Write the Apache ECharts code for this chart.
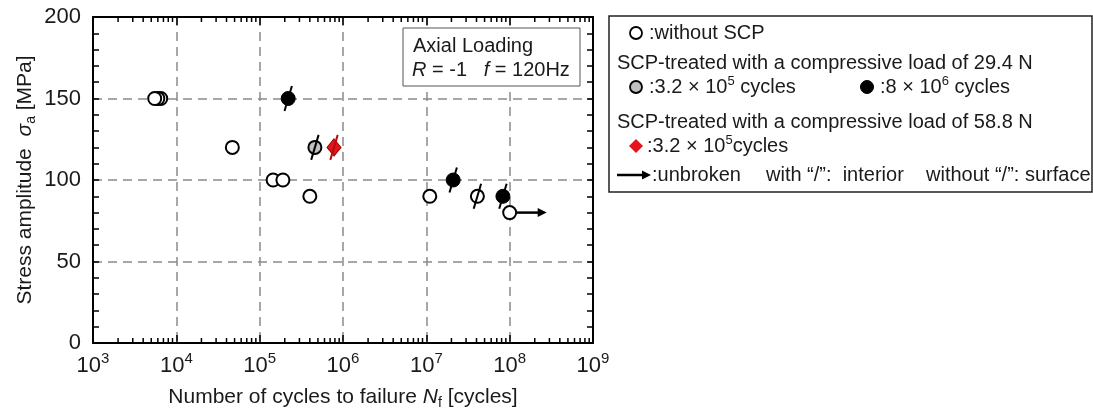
<!DOCTYPE html>
<html>
<head>
<meta charset="utf-8">
<script src="https://cdn.jsdelivr.net/npm/echarts@6/dist/echarts.min.js"></script>
<style>
  html, body { margin: 0; padding: 0; background: #fff; }
  #chart { width: 1093px; height: 410px; }
</style>
</head>
<body>
<div id="chart"></div>
<script>
'use strict';

// S-N data: [cycles to failure, stress amplitude MPa]
const untreatedSurface = [[6.5e3, 150], [6.0e3, 150], [5.5e3, 150], [4.7e4, 120], [1.45e5, 100], [1.9e5, 100], [4.0e5, 90], [1.1e7, 90]];
const untreatedInterior = [[4.1e7, 90]];
const untreatedUnbroken = [[1.0e8, 80]];
const scp294ShortInterior = [[4.6e5, 120]];            // 29.4 N, 3.2e5 cycles (grey)
const scp294LongInterior = [[2.2e5, 150], [2.1e7, 100], [8.3e7, 90]]; // 29.4 N, 8e6 cycles (black)
const scp588ShortInterior = [[7.8e5, 120]];            // 58.8 N, 3.2e5 cycles (red)

const xDecades = [1e3, 1e4, 1e5, 1e6, 1e7, 1e8];
const minorMultipliers = [2, 3, 4, 5, 6, 7, 8, 9];

const FONT = "'Liberation Sans', Arial, sans-serif";
const INK = '#1a1a1a';
const GREY = '#c0c0c0';
const RED = '#e3141c';

const minorTickData = [];
xDecades.forEach((d) => minorMultipliers.forEach((m) => minorTickData.push([d * m, 0])));

const chart = echarts.init(document.getElementById('chart'), null, { renderer: 'canvas' });

function slashSeries(name, data, color) {
  return {
    name, type: 'custom', data, silent: true, z: 5,
    renderItem: (params, api) => {
      const c = api.coord([api.value(0), api.value(1)]);
      return {
        type: 'line',
        shape: { x1: c[0] - 3.7, y1: c[1] + 12.5, x2: c[0] + 3.7, y2: c[1] - 12.5 },
        style: { stroke: color, lineWidth: 2 }
      };
    }
  };
}

function axisCommon() {
  return {
    axisLine: { show: true, onZero: false, lineStyle: { color: '#000', width: 2 } },
    axisTick: { show: true, inside: true, length: 8, lineStyle: { color: '#000', width: 1.5 } }
  };
}

const supRich = {
  n: { fontSize: 20, fontFamily: FONT, fill: INK, lineHeight: 24 },
  s: { fontSize: 13, fontFamily: FONT, fill: INK, verticalAlign: 'top', lineHeight: 13 }
};

const nameRich = {
  n: { fontSize: 21, fontFamily: FONT, color: INK, lineHeight: 26 },
  i: { fontSize: 21, fontFamily: FONT, color: INK, fontStyle: 'italic', lineHeight: 26 },
  sub: { fontSize: 14, fontFamily: FONT, color: INK, verticalAlign: 'bottom', lineHeight: 18 }
};

const option = {
  animation: false,
  textStyle: { fontFamily: FONT, color: INK },
  grid: { left: 93, right: 500, top: 17, bottom: 67, outerBoundsMode: 'none', containLabel: false },
  xAxis: [
    Object.assign(axisCommon(), {
      type: 'log', logBase: 10, min: 1e3, max: 1e9, splitNumber: 6,
      position: 'bottom',
      name: '{n|Number of cycles to failure }{i|N}{sub|f}{n| [cycles]}',
      nameLocation: 'middle', nameGap: 41,
      nameTextStyle: { rich: nameRich },
      axisLabel: {
        margin: 8,
        formatter: (v) => '{b|10}{s|' + Math.round(Math.log10(v)) + '}',
        rich: {
          b: { fontSize: 22, fontFamily: FONT, color: INK, lineHeight: 30 },
          s: { fontSize: 15, fontFamily: FONT, color: INK, verticalAlign: 'top', lineHeight: 16 }
        }
      },
      splitLine: { show: true, lineStyle: { color: '#8a8a8a', width: 1.5, type: [9, 6] } }
    }),
    Object.assign(axisCommon(), {
      type: 'log', logBase: 10, min: 1e3, max: 1e9, splitNumber: 6,
      position: 'top',
      axisLabel: { show: false },
      splitLine: { show: false }
    })
  ],
  yAxis: [
    Object.assign(axisCommon(), {
      type: 'value', min: 0, max: 200, interval: 50,
      position: 'left',
      name: '{n|Stress amplitude  }{i|σ}{sub|a}{n| [MPa]}',
      nameLocation: 'middle', nameGap: 55,
      nameTextStyle: { rich: nameRich },
      axisTick: { show: true, inside: true, length: 6, lineStyle: { color: '#000', width: 1.5 } },
      minorTick: { show: true, splitNumber: 5, length: 6, lineStyle: { color: '#000', width: 1.5 } },
      axisLabel: { margin: 12, fontSize: 22, color: INK, fontFamily: FONT },
      splitLine: { show: true, lineStyle: { color: '#8a8a8a', width: 1.5, type: [9, 6] } }
    }),
    Object.assign(axisCommon(), {
      type: 'value', min: 0, max: 200, interval: 50,
      position: 'right',
      axisTick: { show: true, inside: true, length: 6, lineStyle: { color: '#000', width: 1.5 } },
      minorTick: { show: true, splitNumber: 5, length: 6, lineStyle: { color: '#000', width: 1.5 } },
      axisLabel: { show: false },
      splitLine: { show: false }
    })
  ],
  series: [
    {
      // log minor ticks on bottom and top frame
      name: 'minor ticks', type: 'custom', data: minorTickData, silent: true, z: 6,
      renderItem: (params, api) => {
        const b = api.coord([api.value(0), 0]);
        const t = api.coord([api.value(0), 200]);
        const st = { stroke: '#000', lineWidth: 1.5 };
        return {
          type: 'group',
          children: [
            { type: 'line', shape: { x1: b[0], y1: b[1], x2: b[0], y2: b[1] - 5 }, style: st },
            { type: 'line', shape: { x1: t[0], y1: t[1], x2: t[0], y2: t[1] + 5 }, style: st }
          ]
        };
      }
    },
    {
      // runout arrow
      name: 'unbroken', type: 'custom', data: untreatedUnbroken, silent: true, z: 3,
      renderItem: (params, api) => {
        const c = api.coord([api.value(0), api.value(1)]);
        return {
          type: 'group',
          children: [
            { type: 'line', shape: { x1: c[0] + 6, y1: c[1], x2: c[0] + 30, y2: c[1] }, style: { stroke: '#000', lineWidth: 2.5 } },
            { type: 'polygon', shape: { points: [[c[0] + 28, c[1] - 4.5], [c[0] + 37, c[1]], [c[0] + 28, c[1] + 4.5]] }, style: { fill: '#000' } }
          ]
        };
      }
    },
    {
      name: 'without SCP', type: 'scatter', z: 4,
      data: untreatedSurface.concat(untreatedInterior, untreatedUnbroken),
      symbol: 'circle', symbolSize: 13,
      itemStyle: { color: '#fff', borderColor: '#000', borderWidth: 2, opacity: 1 }
    },
    {
      name: '29.4 N, 3.2e5 cycles', type: 'scatter', z: 4,
      data: scp294ShortInterior,
      symbol: 'circle', symbolSize: 13,
      itemStyle: { color: GREY, borderColor: '#000', borderWidth: 2, opacity: 1 }
    },
    {
      name: '29.4 N, 8e6 cycles', type: 'scatter', z: 4,
      data: scp294LongInterior,
      symbol: 'circle', symbolSize: 14,
      itemStyle: { color: '#000', borderColor: '#000', borderWidth: 1, opacity: 1 }
    },
    {
      name: '58.8 N, 3.2e5 cycles', type: 'scatter', z: 4,
      data: scp588ShortInterior,
      symbol: 'diamond', symbolSize: [14, 17],
      itemStyle: { color: RED, borderColor: '#a00000', borderWidth: 1, opacity: 1 }
    },
    slashSeries('interior (without SCP)', untreatedInterior, '#000'),
    slashSeries('interior (29.4 N short)', scp294ShortInterior, '#000'),
    slashSeries('interior (29.4 N long)', scp294LongInterior, '#000'),
    slashSeries('interior (58.8 N)', scp588ShortInterior, '#b01010')
  ],
  graphic: [
    // condition box inside the plot
    { type: 'rect', z: 10, shape: { x: 403, y: 28, width: 177, height: 58 }, style: { fill: '#fff', stroke: '#555', lineWidth: 1 } },
    { type: 'text', z: 11, x: 413, y: 46, style: { text: 'Axial Loading', fontSize: 20, fontFamily: FONT, fill: INK, verticalAlign: 'middle' } },
    {
      type: 'text', z: 11, x: 412, y: 70,
      style: {
        text: '{i|R}{n| = -1   }{i|f}{n| = 120Hz}', verticalAlign: 'middle',
        rich: {
          n: { fontSize: 20, fontFamily: FONT, fill: INK },
          i: { fontSize: 20, fontFamily: FONT, fill: INK, fontStyle: 'italic' }
        }
      }
    },
    // legend box
    { type: 'rect', z: 10, shape: { x: 609, y: 16, width: 483, height: 176 }, style: { fill: '#fff', stroke: '#222', lineWidth: 1.5 } },
    { type: 'circle', z: 11, shape: { cx: 636, cy: 33, r: 6 }, style: { fill: '#fff', stroke: '#000', lineWidth: 1.8 } },
    { type: 'text', z: 11, x: 649, y: 33, style: { text: ':without SCP', fontSize: 20, fontFamily: FONT, fill: INK, verticalAlign: 'middle' } },
    { type: 'text', z: 11, x: 617, y: 63, style: { text: 'SCP-treated with a compressive load of 29.4 N', fontSize: 20, fontFamily: FONT, fill: INK, verticalAlign: 'middle' } },
    { type: 'circle', z: 11, shape: { cx: 636, cy: 87, r: 6 }, style: { fill: GREY, stroke: '#000', lineWidth: 1.8 } },
    { type: 'text', z: 11, x: 649, y: 87, style: { text: '{n|:3.2 × 10}{s|5}{n| cycles}', verticalAlign: 'middle', rich: supRich } },
    { type: 'circle', z: 11, shape: { cx: 867, cy: 87, r: 6.5 }, style: { fill: '#000', stroke: '#000', lineWidth: 1 } },
    { type: 'text', z: 11, x: 880, y: 87, style: { text: '{n|:8 × 10}{s|6}{n| cycles}', verticalAlign: 'middle', rich: supRich } },
    { type: 'text', z: 11, x: 617, y: 122, style: { text: 'SCP-treated with a compressive load of 58.8 N', fontSize: 20, fontFamily: FONT, fill: INK, verticalAlign: 'middle' } },
    { type: 'polygon', z: 11, shape: { points: [[636, 139], [643, 146], [636, 153], [629, 146]] }, style: { fill: RED } },
    { type: 'text', z: 11, x: 647, y: 146, style: { text: '{n|:3.2 × 10}{s|5}{n|cycles}', verticalAlign: 'middle', rich: supRich } },
    { type: 'line', z: 11, shape: { x1: 617, y1: 175, x2: 644, y2: 175 }, style: { stroke: '#000', lineWidth: 2.5 } },
    { type: 'polygon', z: 11, shape: { points: [[642, 170.5], [651, 175], [642, 179.5]] }, style: { fill: '#000' } },
    { type: 'text', z: 11, x: 652, y: 175, style: { text: ':unbroken', fontSize: 20, fontFamily: FONT, fill: INK, verticalAlign: 'middle' } },
    { type: 'text', z: 11, x: 766, y: 175, style: { text: 'with “/”:  interior', fontSize: 20, fontFamily: FONT, fill: INK, verticalAlign: 'middle' } },
    { type: 'text', z: 11, x: 926, y: 175, style: { text: 'without “/”: surface', fontSize: 20, fontFamily: FONT, fill: INK, verticalAlign: 'middle' } }
  ]
};

chart.setOption(option);
</script>
</body>
</html>
